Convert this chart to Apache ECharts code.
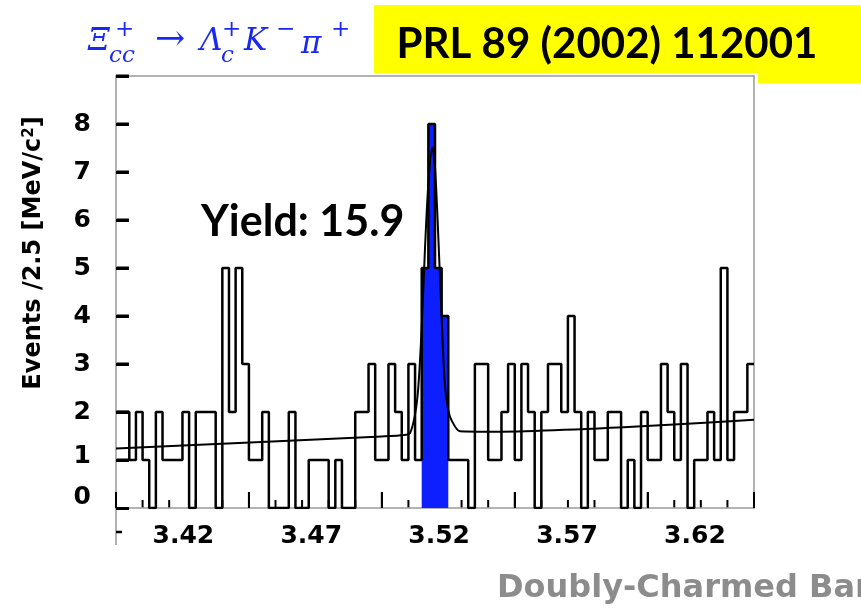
<!DOCTYPE html>
<html><head><meta charset="utf-8">
<script src="https://cdn.jsdelivr.net/npm/echarts@6/dist/echarts.min.js"></script>
<style>html,body{margin:0;padding:0;background:#fff}#c{width:861px;height:610px}</style>
</head><body><div id="c"></div>
<script>
// ---- data ----
const massMin = 3.40, massMax = 3.64, binWidth = 0.0025;   // GeV, 2.5 MeV bins
const yMin = 0, yMax = 9;
const counts = [
  2, 2, 1, 2, 1, 0, 2, 1, 1, 1,
  2, 0, 2, 2, 2, 0, 5, 2, 5, 3,
  1, 1, 2, 0, 0, 0, 2, 0, 0, 1,
  1, 1, 0, 1, 0, 0, 2, 2, 3, 1,
  1, 3, 2, 1, 3, 1, 5, 8, 5, 4,
  1, 1, 1, 0, 3, 3, 1, 1, 2, 3,
  1, 3, 2, 0, 2, 3, 3, 2, 4, 2,
  0, 2, 1, 1, 2, 2, 0, 1, 0, 2,
  1, 1, 3, 2, 1, 3, 0, 1, 1, 2,
  1, 5, 1, 2, 2, 3
];
const signalFirstBin = 46;
const signalCounts = [5, 8, 5, 4];
const fitMass   = [3.400, 3.500, 3.5085, 3.5106, 3.5125, 3.5137, 3.5150, 3.5162, 3.5175, 3.5190, 3.5200, 3.5212, 3.5225, 3.5237, 3.5250, 3.5263, 3.5294, 3.5400, 3.640];
const fitEvents = [1.24, 1.49, 1.52, 1.56, 1.95, 2.50, 3.76, 5.36, 6.75, 7.51, 7.10, 5.71, 3.97, 2.58, 2.03, 1.82, 1.60, 1.59, 1.84];
const xTickLabels = ['3.42', '3.47', '3.52', '3.57', '3.62'];
const yTickValues = [0, 1, 2, 3, 4, 5, 6, 7, 8];
const yTickMarks = [1, 2, 3, 4, 5, 6, 7, 8, 9];
const xTickStep = 0.01, xMajorEvery = 5;

// ---- layout ----
const G = { left: 116, right: 107, top: 76, bottom: 102 };
const W = 861 - G.left - G.right, H = 610 - G.top - G.bottom;
// same linear mapping as the value axes of grid 0 (used only for the axis tick decorations)
const px = m => G.left + (m - massMin) / (massMax - massMin) * W;
const py = v => G.top + (yMax - v) / (yMax - yMin) * H;

// ---- build series data ----
const histData = counts.map((c, i) => [massMin + i * binWidth, c]);
histData.push([massMax, counts[counts.length - 1]]);
const sigData = signalCounts.map((c, i) => [massMin + (signalFirstBin + i) * binWidth, c]);
sigData.push([massMin + (signalFirstBin + signalCounts.length) * binWidth, signalCounts[signalCounts.length - 1]]);
const fitData = fitMass.map((m, i) => [m, fitEvents[i]]);
const xMinorTicks = [], xMajorTicks = [];
for (let i = 0; massMin + i * xTickStep < massMax - 1e-9; i++) {
  const t = +(massMin + i * xTickStep).toFixed(2);
  (i % xMajorEvery === 0 ? xMajorTicks : xMinorTicks).push(t);
}

const LBL = { fontFamily: 'DejaVu Sans', fontWeight: 'bold', fontSize: 25, color: '#000' };
const BLUE = '#1a28f0';
const MF = '"DejaVu Serif"';
const FRAME = { color: '#9a9a9a', width: 1.5 };
const noAx = { axisLine: { show: false, onZero: false }, axisTick: { show: false }, axisLabel: { show: false }, splitLine: { show: false } };

const tickEls = [];
function tick(x, y, dx, dy, w) {
  tickEls.push({ type: 'line', shape: { x1: x, y1: y, x2: x + dx, y2: y + dy }, style: { stroke: '#000', lineWidth: w } });
}
yTickMarks.forEach(v => tick(G.left, py(v), 13, 0, 3));
xMinorTicks.forEach(t => tick(px(t), py(yMin), 0, -8, 2));
xMajorTicks.forEach(t => tick(px(t), py(yMin), 0, -16, 2));

const graphics = [
  { type: 'rect', shape: { x: 374, y: 5, width: 487, height: 68 }, style: { fill: '#ffff00' }, z: -10 },
  { type: 'rect', shape: { x: 758, y: 72, width: 103, height: 11 }, style: { fill: '#ffff00' }, z: -10 },
  { type: 'text', x: 607, y: 44, style: { text: 'PRL 89 (2002) 112001', font: 'bold 42px Lato', fill: '#000', align: 'center', verticalAlign: 'middle' } },
  // formula  Ξcc+ → Λc+ K− π+
  { type: 'text', x: 88, y: 42, style: { text: 'Ξ', font: 'italic 31px ' + MF, fill: BLUE, verticalAlign: 'middle' } },
  { type: 'text', x: 115, y: 30, style: { text: '+', font: '23px ' + MF, fill: BLUE, verticalAlign: 'middle' } },
  { type: 'text', x: 109, y: 56, style: { text: 'cc', font: 'italic 23px ' + MF, fill: BLUE, verticalAlign: 'middle' } },
  { type: 'text', x: 155, y: 41, style: { text: '→', font: '36px ' + MF, fill: BLUE, verticalAlign: 'middle' } },
  { type: 'text', x: 200, y: 42, style: { text: 'Λ', font: 'italic 31px ' + MF, fill: BLUE, verticalAlign: 'middle' } },
  { type: 'text', x: 222, y: 30, style: { text: '+', font: '23px ' + MF, fill: BLUE, verticalAlign: 'middle' } },
  { type: 'text', x: 221, y: 56, style: { text: 'c', font: 'italic 23px ' + MF, fill: BLUE, verticalAlign: 'middle' } },
  { type: 'text', x: 244, y: 42, style: { text: 'K', font: 'italic 31px ' + MF, fill: BLUE, verticalAlign: 'middle' } },
  { type: 'text', x: 276, y: 30, style: { text: '−', font: '23px ' + MF, fill: BLUE, verticalAlign: 'middle' } },
  { type: 'text', x: 301, y: 45, style: { text: 'π', font: 'italic 31px ' + MF, fill: BLUE, verticalAlign: 'middle' } },
  { type: 'text', x: 331, y: 30, style: { text: '+', font: '23px ' + MF, fill: BLUE, verticalAlign: 'middle' } },
  // annotations
  { type: 'text', x: 201, y: 222, style: { text: 'Yield: 15.9', font: 'bold 43px Lato', fill: '#000', verticalAlign: 'middle' } },
  { type: 'text', x: 34, y: 253, rotation: Math.PI / 2,
    style: { text: 'Events /2.5 [MeV/c{s|2}]', font: 'bold 24px "DejaVu Sans"', fill: '#000', align: 'center', verticalAlign: 'middle',
      rich: { s: { fontFamily: 'DejaVu Sans', fontWeight: 'bold', fontSize: 15, verticalAlign: 'top', padding: [0, 0, 8, 0] } } } },
  { type: 'text', x: 497, y: 589, style: { text: 'Doubly-Charmed Baryons', font: 'bold 32px "DejaVu Sans"', fill: '#8c8c8c', verticalAlign: 'middle' } },
  // y axis continues below zero in the figure
  { type: 'line', shape: { x1: 116, y1: 508, x2: 116, y2: 545 }, style: { stroke: '#9a9a9a', lineWidth: 1.5 } },
  { type: 'line', shape: { x1: 116, y1: 532, x2: 122, y2: 532 }, style: { stroke: '#000', lineWidth: 2.5 } }
].concat(tickEls);

const chart = echarts.init(document.getElementById('c'), null, { renderer: 'canvas' });
chart.setOption({
  animation: false,
  backgroundColor: '#fff',
  grid: [
    Object.assign({ outerBoundsMode: 'none', containLabel: false }, G),
    // the slide's mass labels sit on a slightly different scale than the histogram
    { left: 132.2, right: 114.9, top: G.top, bottom: G.bottom, outerBoundsMode: 'none', containLabel: false }
  ],
  xAxis: [
    { type: 'value', gridIndex: 0, position: 'bottom', min: massMin, max: massMax, interval: 0.05,
      axisLine: { show: true, onZero: false, lineStyle: FRAME },
      axisTick: { show: true, inside: true, length: 16, lineStyle: { color: '#000', width: 2 } },
      axisLabel: { show: false }, splitLine: { show: false } },
    Object.assign({ type: 'value', gridIndex: 0, position: 'top', min: massMin, max: massMax }, noAx,
      { axisLine: { show: true, onZero: false, lineStyle: FRAME } }),
    { type: 'value', gridIndex: 1, position: 'bottom', min: massMin, max: massMax, interval: 0.01,
      axisLine: { show: false, onZero: false }, axisTick: { show: false }, splitLine: { show: false },
      axisLabel: Object.assign({ show: true, interval: 0, hideOverlap: false, margin: 16,
        formatter: v => { const s = v.toFixed(2); return xTickLabels.indexOf(s) >= 0 ? s : ''; } }, LBL) }
  ],
  yAxis: [
    { type: 'value', gridIndex: 0, position: 'left', min: yMin, max: yMax, interval: 1,
      axisLine: { show: true, onZero: false, lineStyle: FRAME },
      axisTick: { show: true, inside: true, length: 13, lineStyle: { color: '#000', width: 3 } },
      splitLine: { show: false },
      axisLabel: Object.assign({ margin: 25,
        formatter: v => {
          if (yTickValues.indexOf(v) < 0) return '';
          if (v === 0) return '{z|0}';
          if (v === 1) return '{o|1}';
          return '{n|' + v + '}';
        },
        rich: {
          z: Object.assign({ padding: [0, 0, 22, 0] }, LBL),
          o: Object.assign({ padding: [0, 0, 8, 0] }, LBL),
          n: Object.assign({}, LBL)
        } }, LBL) },
    Object.assign({ type: 'value', gridIndex: 0, position: 'right', min: yMin, max: yMax }, noAx,
      { axisLine: { show: true, onZero: false, lineStyle: FRAME } }),
    Object.assign({ type: 'value', gridIndex: 1, min: yMin, max: yMax }, noAx)
  ],
  series: [
    { type: 'line', name: 'signal', xAxisIndex: 0, yAxisIndex: 0, data: sigData, step: 'end', symbol: 'none', silent: true,
      lineStyle: { width: 0 }, areaStyle: { color: '#0d1eff', opacity: 1 }, z: 2 },
    { type: 'line', name: 'data', xAxisIndex: 0, yAxisIndex: 0, data: histData, step: 'end', symbol: 'none', silent: true,
      lineStyle: { color: '#000', width: 2.5 }, z: 3 },
    { type: 'line', name: 'fit', xAxisIndex: 0, yAxisIndex: 0, data: fitData, smooth: 0.3, symbol: 'none', silent: true,
      lineStyle: { color: '#000', width: 2 }, z: 4 }
  ],
  graphic: graphics
});
</script></body></html>
